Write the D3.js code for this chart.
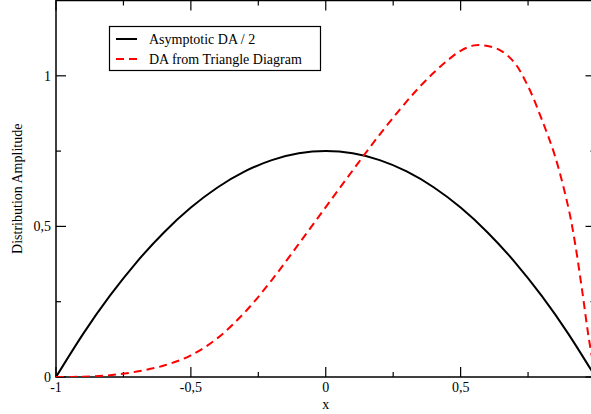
<!DOCTYPE html>
<html>
<head>
<meta charset="utf-8">
<script src="https://cdn.jsdelivr.net/npm/d3@7"></script>
<style>
html,body{margin:0;padding:0;background:#fff;overflow:hidden;}
text{font-family:"Liberation Serif","Times New Roman",serif;fill:#000;}
</style>
</head>
<body>
<svg id="chart" width="591" height="414"></svg>
<script>
// ---- data ----
const asymX = [-1,-0.9,-0.8,-0.7,-0.6,-0.5,-0.4,-0.3,-0.2,-0.1,0,0.1,0.2,0.3,0.4,0.5,0.6,0.7,0.8,0.9,1];
const asymY = [0,0.1425,0.27,0.3825,0.48,0.5625,0.63,0.6825,0.72,0.7425,0.75,0.7425,0.72,0.6825,0.63,0.5625,0.48,0.3825,0.27,0.1425,0];

const triX = [-1,-0.9,-0.8,-0.7,-0.6,-0.5,-0.4,-0.3,-0.2,-0.1,0,0.1,0.2,0.3,0.35,0.4,0.45,0.5,0.55,0.6,0.65,0.7,0.75,0.8,0.85,0.9,0.925,0.95,0.975,1];
const triY = [0,0.001,0.006,0.018,0.038,0.072,0.13,0.215,0.322,0.442,0.564,0.686,0.805,0.915,0.965,1.01,1.05,1.083,1.101,1.099,1.083,1.043,0.965,0.857,0.733,0.56,0.44,0.29,0.13,0];

const xTicksMajor = [-1,-0.5,0,0.5,1];
const xTicksMinor = [-0.75,-0.25,0.25,0.75];
const yTicksMajor = [0,0.5,1];
const yTicksMinor = [0.25,0.75];
const seriesNames = ["Asymptotic DA / 2","DA from Triangle Diagram"];

// ---- layout ----
const W = 591;
const svg = d3.select("#chart");
const L = 56, R = 595.5, T = 0.5, B = 377;
const x = d3.scaleLinear().domain([-1,1]).range([L,R]);
const y = d3.scaleLinear().domain([0,1.25]).range([B,T]);
const fmt = d => String(d).replace(".", ",");

// frame
svg.append("rect").attr("x",L).attr("y",T).attr("width",R-L).attr("height",B-T)
  .attr("fill","none").attr("stroke","#000").attr("stroke-width",1.5);

// ticks (inward on all sides)
const tk = svg.append("g").attr("stroke","#000").attr("stroke-width",1.2);
xTicksMajor.forEach(v=>{
  tk.append("line").attr("x1",x(v)).attr("x2",x(v)).attr("y1",B).attr("y2",B-10);
  tk.append("line").attr("x1",x(v)).attr("x2",x(v)).attr("y1",T).attr("y2",T+10);
});
xTicksMinor.forEach(v=>{
  tk.append("line").attr("x1",x(v)).attr("x2",x(v)).attr("y1",B).attr("y2",B-5);
  tk.append("line").attr("x1",x(v)).attr("x2",x(v)).attr("y1",T).attr("y2",T+5);
});
yTicksMajor.forEach(v=>{
  tk.append("line").attr("x1",L).attr("x2",L+10).attr("y1",y(v)).attr("y2",y(v));
  tk.append("line").attr("x1",R).attr("x2",R-10).attr("y1",y(v)).attr("y2",y(v));
});
yTicksMinor.forEach(v=>{
  tk.append("line").attr("x1",L).attr("x2",L+5).attr("y1",y(v)).attr("y2",y(v));
  tk.append("line").attr("x1",R).attr("x2",R-5).attr("y1",y(v)).attr("y2",y(v));
});

// tick labels (only those that fall inside the window, like the reference)
xTicksMajor.filter(v => x(v) + 4 < W).forEach(v=>{
  svg.append("text").attr("x",x(v)).attr("y",392).attr("text-anchor","middle")
    .attr("font-size",14).text(fmt(v));
});
yTicksMajor.forEach(v=>{
  svg.append("text").attr("x",51).attr("y",y(v)+5).attr("text-anchor","end")
    .attr("font-size",14).text(fmt(v));
});

// axis titles
svg.append("text").attr("x",x(0)).attr("y",409).attr("text-anchor","middle")
  .attr("font-size",14).text("x");
svg.append("text").attr("transform",`translate(22,${(T+B)/2}) rotate(-90)`)
  .attr("text-anchor","middle").attr("font-size",14).text("Distribution Amplitude");

// curves
svg.append("clipPath").attr("id","pc").append("rect")
  .attr("x",L).attr("y",T).attr("width",R-L).attr("height",B-T);
const line = d3.line().x(d=>x(d[0])).y(d=>y(Math.max(0,d[1])));
svg.append("path").datum(asymX.map((v,i)=>[v,asymY[i]]))
  .attr("d",line.curve(d3.curveNatural)).attr("fill","none")
  .attr("stroke","#000").attr("stroke-width",2).attr("clip-path","url(#pc)");
svg.append("path").datum(triX.map((v,i)=>[v,triY[i]]))
  .attr("d",line.curve(d3.curveCatmullRom.alpha(0.5))).attr("fill","none")
  .attr("stroke","#ff0000").attr("stroke-width",2).attr("stroke-dasharray","8,5")
  .attr("clip-path","url(#pc)");

// legend
const lg = svg.append("g");
lg.append("rect").attr("x",109.5).attr("y",26.5).attr("width",211).attr("height",44)
  .attr("fill","#fff").attr("stroke","#000").attr("stroke-width",1.2);
lg.append("line").attr("x1",116).attr("x2",137).attr("y1",39).attr("y2",39)
  .attr("stroke","#000").attr("stroke-width",2);
lg.append("line").attr("x1",116).attr("x2",137).attr("y1",59).attr("y2",59)
  .attr("stroke","#ff0000").attr("stroke-width",2).attr("stroke-dasharray","8,5");
lg.append("text").attr("x",149).attr("y",44).attr("font-size",14).text(seriesNames[0]);
lg.append("text").attr("x",149).attr("y",64).attr("font-size",14).text(seriesNames[1]);
</script>
</body>
</html>
